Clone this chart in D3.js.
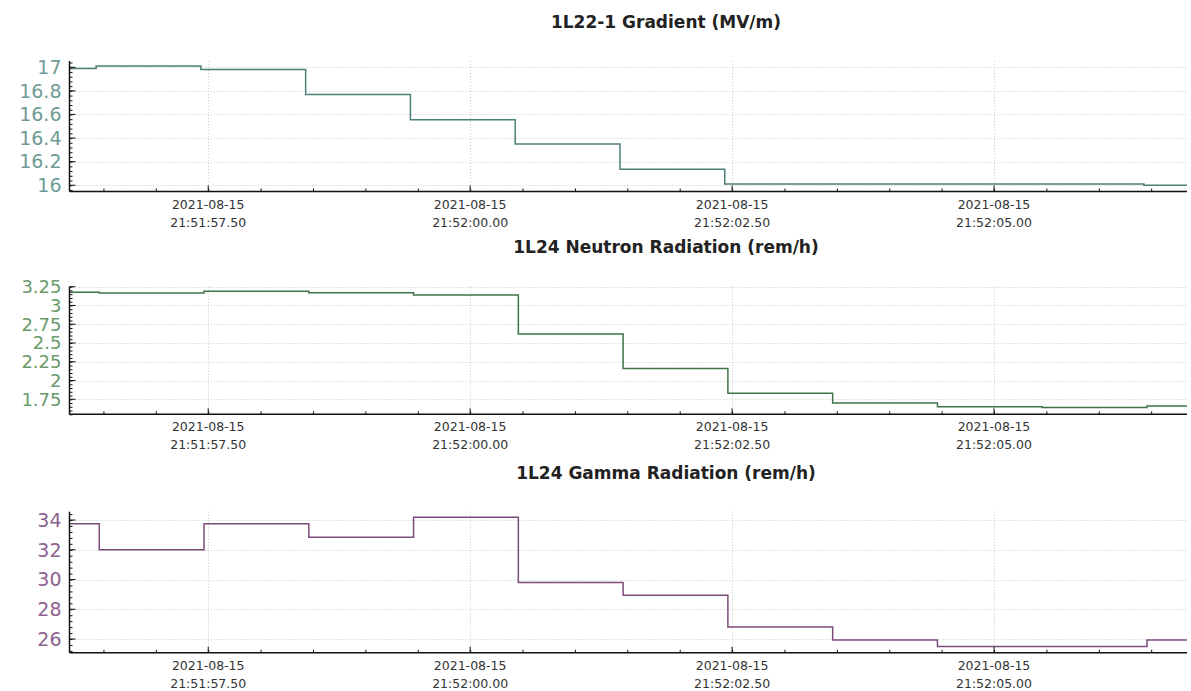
<!DOCTYPE html>
<html>
<head>
<meta charset="utf-8">
<script src="https://cdn.jsdelivr.net/npm/d3@7"></script>
<style>
  body { margin: 0; background: #fff; }
  svg { display: block; font-family: "DejaVu Sans", sans-serif; }
</style>
</head>
<body>
<div id="chart"></div>
<script>
// sample times (one per second), all on 2021-08-15
var gradientTimes = ["21:51:55.43", "21:51:56.43", "21:51:57.43", "21:51:58.43", "21:51:59.43", "21:52:00.43",
                     "21:52:01.43", "21:52:02.43", "21:52:03.43", "21:52:04.43", "21:52:05.43", "21:52:06.43"];
var radiationTimes = ["21:51:55.46", "21:51:56.46", "21:51:57.46", "21:51:58.46", "21:51:59.46", "21:52:00.46",
                      "21:52:01.46", "21:52:02.46", "21:52:03.46", "21:52:04.46", "21:52:05.46", "21:52:06.46"];

var gradientVals = [16.99, 17.01, 16.98, 16.77, 16.555, 16.35, 16.135, 16.01, 16.01, 16.01, 16.01, 16.0];
var neutronVals  = [3.175, 3.165, 3.19, 3.17, 3.14, 2.62, 2.16, 1.83, 1.70, 1.65, 1.64, 1.66];
var gammaVals    = [33.75, 32.0, 33.75, 32.85, 34.18, 29.8, 28.95, 26.8, 25.93, 25.5, 25.5, 25.93];

var titles = ["1L22-1 Gradient (MV/m)", "1L24 Neutron Radiation (rem/h)", "1L24 Gamma Radiation (rem/h)"];
var gradientTicks = [16, 16.2, 16.4, 16.6, 16.8, 17];
var neutronTicks  = [1.75, 2, 2.25, 2.5, 2.75, 3, 3.25];
var gammaTicks    = [26, 28, 30, 32, 34];

var width = 1191, height = 691;
var left = 69.5, right = 1187;

var parseT = d3.utcParse("%Y-%m-%d %H:%M:%S.%L");
var toDate = s => parseT("2021-08-15 " + s + "0");
var xDomain = [parseT("2021-08-15 21:51:56.176"), parseT("2021-08-15 21:52:06.842")];

var x = d3.scaleUtc().domain(xDomain).range([left, right]);

var svg = d3.select('#chart')
  .append('svg')
  .attr('width', width)
  .attr('height', height);

var panels = [
  { times: gradientTimes, vals: gradientVals, ticks: gradientTicks, domain: [15.947, 17.053], top: 61, bottom: 191.5, titleY: 28,
    line: '#4d7f79', label: '#6f9b96', labelSize: 19 },
  { times: radiationTimes, vals: neutronVals, ticks: neutronTicks, domain: [1.55, 3.25], top: 286.7, bottom: 414.3, titleY: 253,
    line: '#3f7448', label: '#6a9a6c', labelSize: 18 },
  { times: radiationTimes, vals: gammaVals, ticks: gammaTicks, domain: [25.08, 34.56], top: 511.7, bottom: 652.7, titleY: 479,
    line: '#7b4c7b', label: '#8e618e', labelSize: 19 }
];

var fmtDate = d3.utcFormat("%Y-%m-%d");
var fmtTime = d => d3.utcFormat("%H:%M:%S")(d) + "." + String(Math.round(d.getUTCMilliseconds() / 10)).padStart(2, "0");

var majorX = d3.utcMillisecond.every(2500).range(xDomain[0], xDomain[1]);
var minorX = d3.utcMillisecond.every(500).range(xDomain[0], xDomain[1]);

panels.forEach((p, k) => {
  var y = d3.scaleLinear().domain(p.domain).range([p.bottom, p.top]);
  var g = svg.append('g');

  // title
  g.append('text')
    .attr('x', 666).attr('y', p.titleY)
    .attr('text-anchor', 'middle')
    .attr('font-size', 17).attr('font-weight', 'bold')
    .attr('fill', '#222')
    .text(titles[k]);

  // grid
  g.selectAll('.hg').data(p.ticks).enter().append('line')
    .attr('x1', left).attr('x2', right)
    .attr('y1', d => Math.round(y(d)) + 0.5).attr('y2', d => Math.round(y(d)) + 0.5)
    .attr('stroke', '#c8c8c8').attr('stroke-dasharray', '1,2');
  g.selectAll('.vg').data(majorX).enter().append('line')
    .attr('x1', d => Math.round(x(d)) + 0.5).attr('x2', d => Math.round(x(d)) + 0.5)
    .attr('y1', p.top).attr('y2', p.bottom)
    .attr('stroke', '#c8c8c8').attr('stroke-dasharray', '1,2');

  // data line
  var clipId = 'clip' + k;
  svg.append('clipPath').attr('id', clipId).append('rect')
    .attr('x', left).attr('y', p.top).attr('width', right - left).attr('height', p.bottom - p.top);
  var pts = p.times.map((t, i) => [toDate(t), p.vals[i]]);
  pts.push([xDomain[1], p.vals[p.vals.length - 1]]);
  g.append('path')
    .datum(pts)
    .attr('clip-path', 'url(#' + clipId + ')')
    .attr('fill', 'none')
    .attr('stroke', p.line)
    .attr('stroke-width', 1.5)
    .attr('d', d3.line().x(d => x(d[0])).y(d => y(d[1])).curve(d3.curveStepAfter));

  // y axis
  var step = p.ticks[1] - p.ticks[0];
  var minorY = d3.range(Math.ceil(p.domain[0] / (step / 5)), Math.floor(p.domain[1] / (step / 5)) + 1)
    .map(i => i * step / 5);
  var yAxis = g.append('g').attr('transform', 'translate(' + left + ',0)')
    .call(d3.axisRight(y).tickValues(minorY).tickSize(3).tickFormat(''));
  yAxis.selectAll('line').attr('stroke', '#111');
  yAxis.select('.domain').attr('d', 'M0,' + p.top + 'V' + p.bottom).attr('stroke', '#111').attr('stroke-width', 1.5);
  g.selectAll('.ymaj').data(p.ticks).enter().append('line')
    .attr('x1', left).attr('x2', left + 6)
    .attr('y1', d => y(d)).attr('y2', d => y(d))
    .attr('stroke', '#111');
  g.selectAll('.ylab').data(p.ticks).enter().append('text')
    .attr('x', left - 8).attr('y', d => y(d))
    .attr('dy', '0.36em')
    .attr('text-anchor', 'end')
    .attr('font-size', p.labelSize)
    .attr('fill', p.label)
    .text(d => String(+d.toFixed(2)));

  // x axis
  var xAxis = g.append('g').attr('transform', 'translate(0,' + p.bottom + ')')
    .call(d3.axisTop(x).tickValues(minorX).tickSize(3).tickFormat(''));
  xAxis.selectAll('line').attr('stroke', '#111');
  xAxis.select('.domain').attr('d', 'M' + left + ',0H' + right).attr('stroke', '#111').attr('stroke-width', 1.5);
  g.selectAll('.xmaj').data(majorX).enter().append('line')
    .attr('x1', d => x(d)).attr('x2', d => x(d))
    .attr('y1', p.bottom).attr('y2', p.bottom - 6)
    .attr('stroke', '#111');
  var xl = g.selectAll('.xlab').data(majorX).enter().append('text')
    .attr('text-anchor', 'middle')
    .attr('font-size', 12.5)
    .attr('fill', '#333');
  xl.append('tspan').attr('x', d => x(d)).attr('y', p.bottom + 17).text(d => fmtDate(d));
  xl.append('tspan').attr('x', d => x(d)).attr('y', p.bottom + 35).text(d => fmtTime(d));
});
</script>
</body>
</html>
